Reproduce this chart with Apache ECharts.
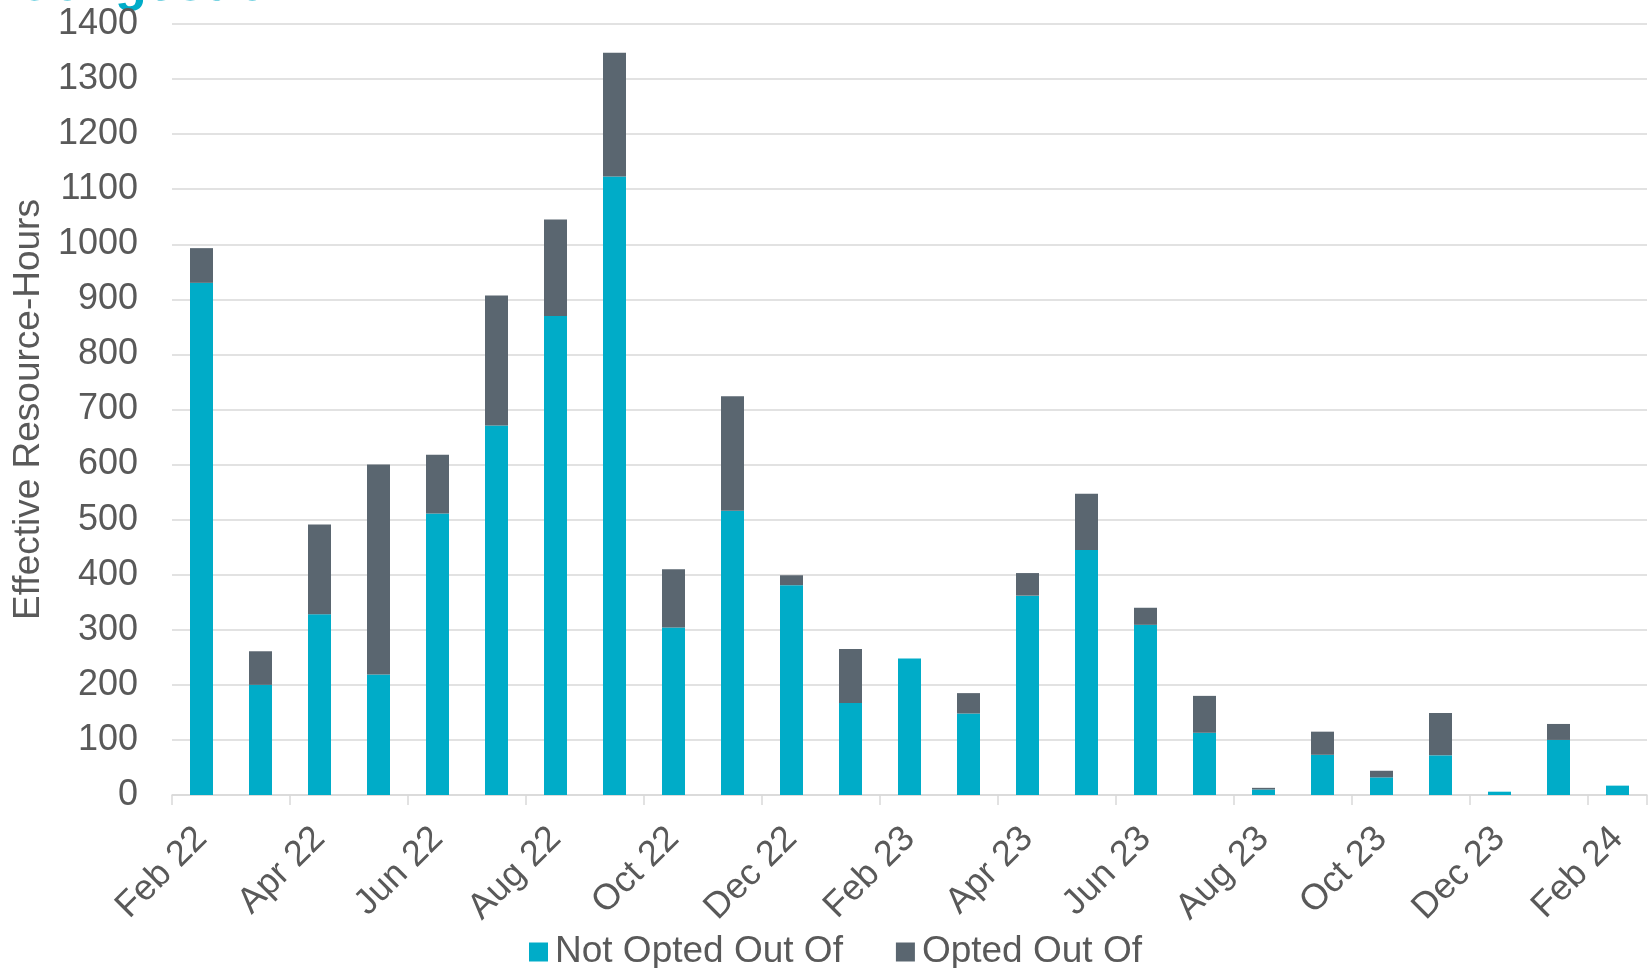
<!DOCTYPE html>
<html>
<head>
<meta charset="utf-8">
<script src="https://cdn.jsdelivr.net/npm/echarts@6/dist/echarts.min.js"></script>
<style>
html,body{margin:0;padding:0;background:#fff;}
#c{width:1648px;height:968px;}
</style>
</head>
<body>
<div id="c"></div>
<script>
const categories = ["Feb 22","Mar 22","Apr 22","May 22","Jun 22","Jul 22","Aug 22","Sep 22","Oct 22","Nov 22","Dec 22","Jan 23","Feb 23","Mar 23","Apr 23","May 23","Jun 23","Jul 23","Aug 23","Sep 23","Oct 23","Nov 23","Dec 23","Jan 24","Feb 24"];
const notOptedOutOf = [930, 200, 328, 219, 511, 671, 870, 1123, 304, 516, 381, 167, 248, 148, 362, 445, 309, 113, 10, 73, 32, 72, 6, 100, 17];
const optedOutOf = [63, 61, 163, 381, 107, 236, 175, 225, 106, 208, 18, 98, 0, 37, 41, 102, 31, 67, 3, 42, 12, 77, 0, 29, 0];
const seriesNames = ["Not Opted Out Of", "Opted Out Of"];
const yAxisTitle = "Effective Resource-Hours";
const titleText = "Congestion";

const FONT = '"Liberation Sans", Arial, sans-serif';
const TXT = '#595959';
const chart = echarts.init(document.getElementById('c'), null, {renderer: 'canvas'});
chart.setOption({
  animation: false,
  backgroundColor: '#ffffff',
  color: ['#00ACC8', '#5A6670'],
  graphic: [{
    type: 'text', x: 14, y: -14,
    style: {text: titleText, font: 'bold 52px ' + FONT, fill: '#00ACC8', textVerticalAlign: 'middle'}
  }],
  grid: {left: 172, right: 1, top: 24, bottom: 173, containLabel: false, outerBoundsMode: 'none'},
  legend: {
    data: seriesNames,
    left: 524, top: 927,
    itemWidth: 19, itemHeight: 19, itemGap: 53,
    icon: 'rect',
    textStyle: {fontFamily: FONT, fontSize: 37, color: TXT, lineHeight: 40, padding: [0, 0, 0, 2]}
  },
  xAxis: {
    type: 'category',
    data: categories,
    axisLine: {show: true, lineStyle: {color: '#D9D9D9', width: 1.5}},
    axisTick: {show: true, interval: 1, length: 10, alignWithLabel: false, lineStyle: {color: '#D9D9D9', width: 1.5}},
    axisLabel: {interval: 1, rotate: 45, margin: 38, fontFamily: FONT, fontSize: 36, color: TXT}
  },
  yAxis: {
    type: 'value',
    min: 0, max: 1400, interval: 100,
    name: yAxisTitle,
    nameLocation: 'middle',
    nameRotate: 90,
    nameGap: 125,
    nameTextStyle: {fontFamily: FONT, fontSize: 37, color: TXT},
    axisLine: {show: false},
    axisTick: {show: false},
    axisLabel: {margin: 34, fontFamily: FONT, fontSize: 36, color: TXT, formatter: function (v) { return String(v); }},
    splitLine: {show: true, lineStyle: {color: '#D9D9D9', width: 1.5}}
  },
  series: [
    {name: seriesNames[0], type: 'bar', stack: 'total', data: notOptedOutOf, barWidth: 23},
    {name: seriesNames[1], type: 'bar', stack: 'total', data: optedOutOf, barWidth: 23}
  ]
});
</script>
</body>
</html>
